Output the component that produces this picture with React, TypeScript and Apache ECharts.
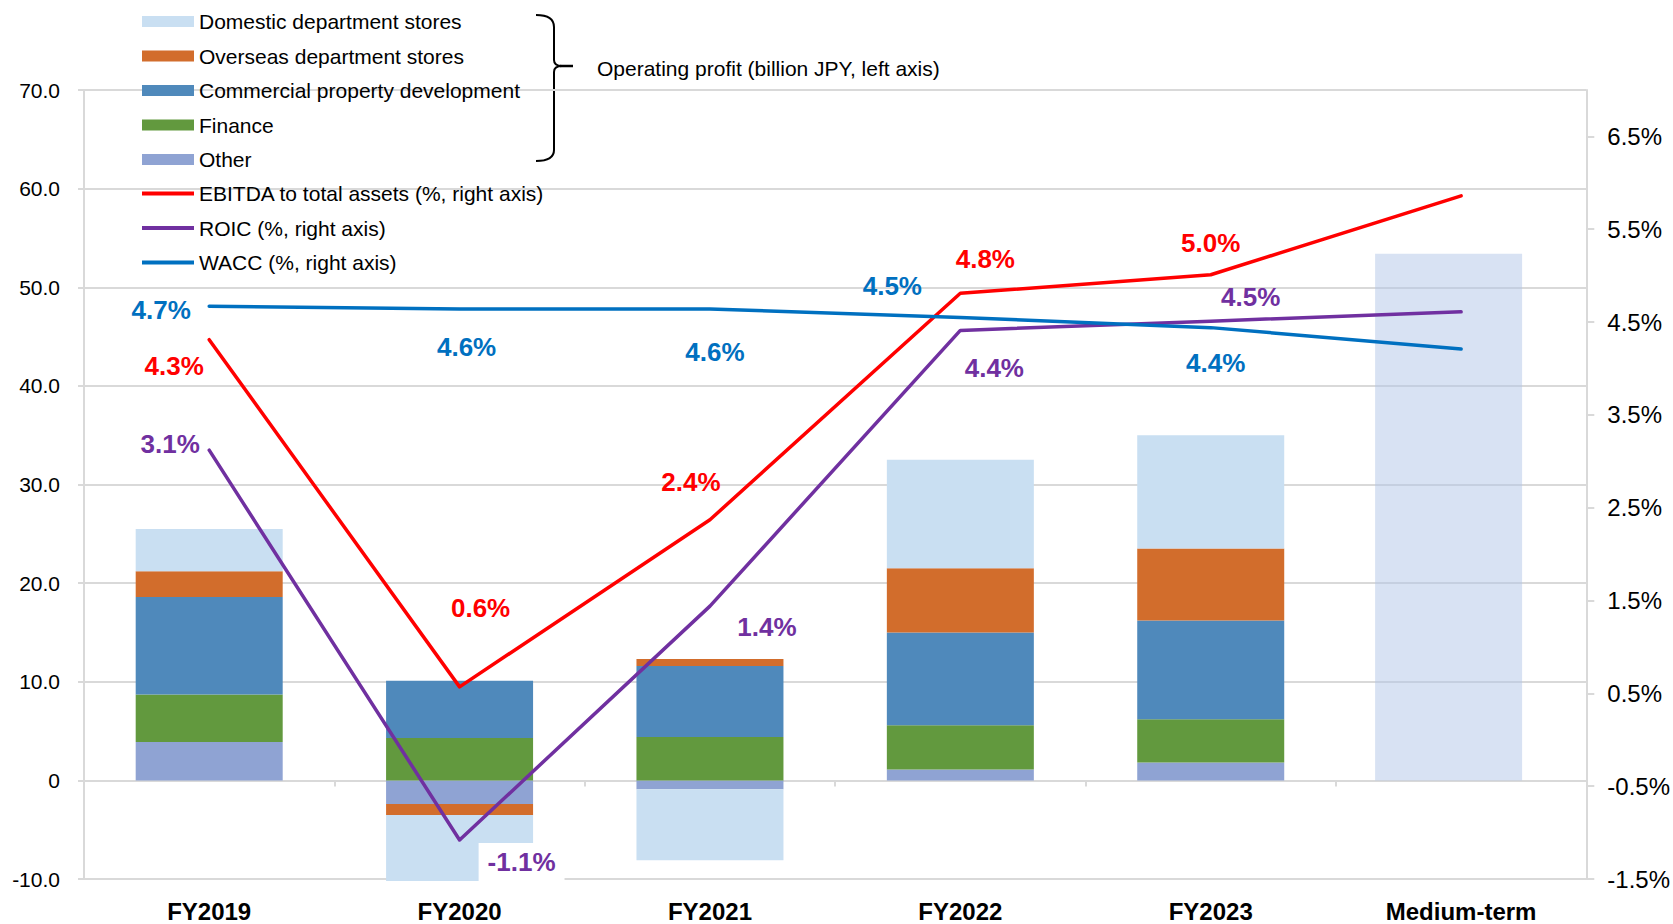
import React, { useEffect, useRef } from 'react';
import * as echarts from 'echarts';

const categories = ['FY2019', 'FY2020', 'FY2021', 'FY2022', 'FY2023', 'Medium-term'];

// Operating profit (billion JPY, left axis)
const otherOP = [3.9, -2.4, -0.9, 1.1, 1.8, null];
const financeOP = [4.8, 4.3, 4.4, 4.5, 4.4, null];
const commercialOP = [9.9, 5.8, 7.2, 9.4, 10.0, null];
const overseasOP = [2.6, -1.1, 0.7, 6.5, 7.3, null];
const domesticOP = [4.3, -6.7, -7.2, 11.0, 11.5, null];
const mediumTermOP = [null, null, null, null, null, 53.4];

// Ratios (%, right axis)
const ebitdaRatio = [4.31, 0.57, 2.37, 4.81, 5.01, 5.86];
const roic = [3.12, -1.08, 1.44, 4.41, 4.51, 4.61];
const wacc = [4.67, 4.64, 4.64, 4.55, 4.44, 4.21];

const barNames = [
  'Domestic department stores',
  'Overseas department stores',
  'Commercial property development',
  'Finance',
  'Other',
];
const lineNames = [
  'EBITDA to total assets (%, right axis)',
  'ROIC (%, right axis)',
  'WACC (%, right axis)',
];

// label placement (styling, not data)
const ebitdaLabelOffsets = [[-35, 26], [21, -79], [-19, -38], [25, -34], [0, -32], null];
const roicLabelOffsets = [[-39, -6], [62, 22], [57, 21], [34, 38], [40, -24], null];
const waccLabelOffsets = [[-48, 4], [7, 38], [5, 43], [-68, -31], [5, 35], null];

const FONT = 'Arial, "Liberation Sans", sans-serif';
const GRID_COLOR = '#d9d9d9';

function makeLine(name: string, values: number[], color: string, offsets: any[], special?: number) {
  return {
    name,
    type: 'line',
    yAxisIndex: 1,
    z: 5,
    symbol: 'circle',
    symbolSize: 1,
    showSymbol: true,
    lineStyle: { color, width: 3.5, cap: 'round', join: 'round' },
    itemStyle: { color },
    data: values.map((v, i) => {
      const off = offsets[i];
      if (!off) return { value: v, label: { show: false } };
      const lbl: any = { show: true, offset: off };
      if (special === i) {
        lbl.backgroundColor = '#ffffff';
        lbl.padding = [6, 9];
      }
      return { value: v, label: lbl };
    }),
    label: {
      show: true,
      position: 'inside',
      formatter: (p: any) => Number(p.value).toFixed(1) + '%',
      color,
      fontSize: 26,
      fontWeight: 'bold',
      fontFamily: FONT,
    },
  };
}

function makeBar(name: string, values: (number | null)[], color: string) {
  return {
    name,
    type: 'bar',
    stack: 'op',
    barWidth: 147,
    clip: false,
    itemStyle: { color },
    data: values.map((v) => (v === null ? '-' : v)),
  };
}

export default function App() {
  const ref = useRef<HTMLDivElement>(null);

  useEffect(() => {
    if (!ref.current) return;
    const chart = echarts.init(ref.current, null, { renderer: 'svg' });

    const option: any = {
      animation: false,
      backgroundColor: '#ffffff',
      textStyle: { fontFamily: FONT },
      grid: { left: 84, right: 84, top: 90, bottom: 45, containLabel: false },
      legend: [
        {
          orient: 'vertical',
          left: 142,
          top: 11,
          padding: 0,
          itemGap: 13.5,
          itemWidth: 52,
          itemHeight: 11,
          icon: 'rect',
          selectedMode: false,
          data: barNames,
          textStyle: { fontSize: 21, color: '#000', fontFamily: FONT, lineHeight: 21 },
        },
        {
          orient: 'vertical',
          left: 142,
          top: 183,
          padding: 0,
          itemGap: 13.5,
          itemWidth: 52,
          itemHeight: 4,
          icon: 'rect',
          selectedMode: false,
          data: lineNames,
          textStyle: { fontSize: 21, color: '#000', fontFamily: FONT, lineHeight: 21 },
        },
      ],
      xAxis: [
        {
          type: 'category',
          data: categories,
          position: 'bottom',
          boundaryGap: true,
          axisLine: { show: false, onZero: false },
          axisTick: { show: false },
          axisLabel: {
            fontSize: 24,
            fontWeight: 'bold',
            color: '#000',
            margin: 20,
            fontFamily: FONT,
            interval: 0,
          },
          splitLine: { show: false },
        },
        {
          type: 'category',
          data: categories,
          position: 'top',
          boundaryGap: true,
          axisLine: { show: true, onZero: true, lineStyle: { color: GRID_COLOR, width: 2 } },
          axisTick: { show: true, inside: true, length: 6, lineStyle: { color: GRID_COLOR, width: 2 } },
          axisLabel: { show: false },
          splitLine: { show: false },
        },
        {
          type: 'category',
          data: categories,
          show: false,
          boundaryGap: true,
        },
      ],
      yAxis: [
        {
          type: 'value',
          position: 'left',
          min: -10,
          max: 70,
          interval: 10,
          axisLine: { show: true, lineStyle: { color: GRID_COLOR, width: 2 } },
          axisTick: { show: true, length: 6, lineStyle: { color: GRID_COLOR, width: 2 } },
          axisLabel: {
            formatter: (v: number) => (v === 0 ? '0' : v.toFixed(1)),
            fontSize: 21,
            color: '#000',
            margin: 24,
            fontFamily: FONT,
          },
          splitLine: { show: true, lineStyle: { color: GRID_COLOR, width: 2 } },
        },
        {
          type: 'value',
          position: 'right',
          min: -1.5,
          max: 7,
          interval: 1,
          axisLine: { show: true, lineStyle: { color: GRID_COLOR, width: 2 } },
          axisTick: { show: true, length: 8, lineStyle: { color: GRID_COLOR, width: 2 } },
          axisLabel: {
            formatter: (v: number) => v.toFixed(1) + '%',
            fontSize: 24,
            color: '#000',
            margin: 21,
            fontFamily: FONT,
            showMaxLabel: false,
          },
          splitLine: { show: false },
        },
      ],
      series: [
        makeBar('Other', otherOP, '#8fa3d3'),
        makeBar('Finance', financeOP, '#62993e'),
        makeBar('Commercial property development', commercialOP, '#4f89bb'),
        makeBar('Overseas department stores', overseasOP, '#d26d2c'),
        makeBar('Domestic department stores', domesticOP, '#c9dff2'),
        {
          name: 'Medium-term target',
          type: 'bar',
          xAxisIndex: 2,
          barWidth: 147,
          barGap: 0,
          itemStyle: { color: 'rgba(178,198,232,0.5)' },
          data: mediumTermOP.map((v) => (v === null ? '-' : v)),
        },
        {
          name: 'spacer',
          type: 'bar',
          xAxisIndex: 2,
          barWidth: 25,
          barGap: 0,
          silent: true,
          itemStyle: { color: 'rgba(0,0,0,0)' },
          data: categories.map(() => '-'),
        },
        makeLine(lineNames[0], ebitdaRatio, '#ff0000', ebitdaLabelOffsets),
        makeLine(lineNames[1], roic, '#7030a0', roicLabelOffsets, 1),
        makeLine(lineNames[2], wacc, '#0070c0', waccLabelOffsets),
      ],
      graphic: [
        {
          type: 'group',
          silent: true,
          children: [
            { type: 'bezierCurve', shape: { x1: 536, y1: 15, cpx1: 554, cpy1: 15, x2: 554, y2: 27 }, style: { stroke: '#000', lineWidth: 2, fill: null } },
            { type: 'line', shape: { x1: 554, y1: 27, x2: 554, y2: 60 }, style: { stroke: '#000', lineWidth: 2 } },
            { type: 'bezierCurve', shape: { x1: 554, y1: 60, cpx1: 554, cpy1: 66, x2: 562, y2: 66 }, style: { stroke: '#000', lineWidth: 2, fill: null } },
            { type: 'line', shape: { x1: 560, y1: 66, x2: 573, y2: 66 }, style: { stroke: '#000', lineWidth: 2.5 } },
            { type: 'bezierCurve', shape: { x1: 562, y1: 66, cpx1: 554, cpy1: 66, x2: 554, y2: 72 }, style: { stroke: '#000', lineWidth: 2, fill: null } },
            { type: 'line', shape: { x1: 554, y1: 72, x2: 554, y2: 150 }, style: { stroke: '#000', lineWidth: 2 } },
            { type: 'bezierCurve', shape: { x1: 554, y1: 150, cpx1: 554, cpy1: 161, x2: 536, y2: 161 }, style: { stroke: '#000', lineWidth: 2, fill: null } },
          ],
        },
        {
          type: 'text',
          x: 597,
          y: 68,
          silent: true,
          style: {
            text: 'Operating profit (billion JPY, left axis)',
            fontSize: 21,
            fontFamily: FONT,
            fill: '#000',
            verticalAlign: 'middle',
            align: 'left',
          },
        },
      ],
    };

    chart.setOption(option);
    return () => {
      chart.dispose();
    };
  }, []);

  return (
    <div
      ref={ref}
      style={{ position: 'absolute', left: 0, top: 0, width: 1673, height: 924, background: '#fff' }}
    />
  );
}
